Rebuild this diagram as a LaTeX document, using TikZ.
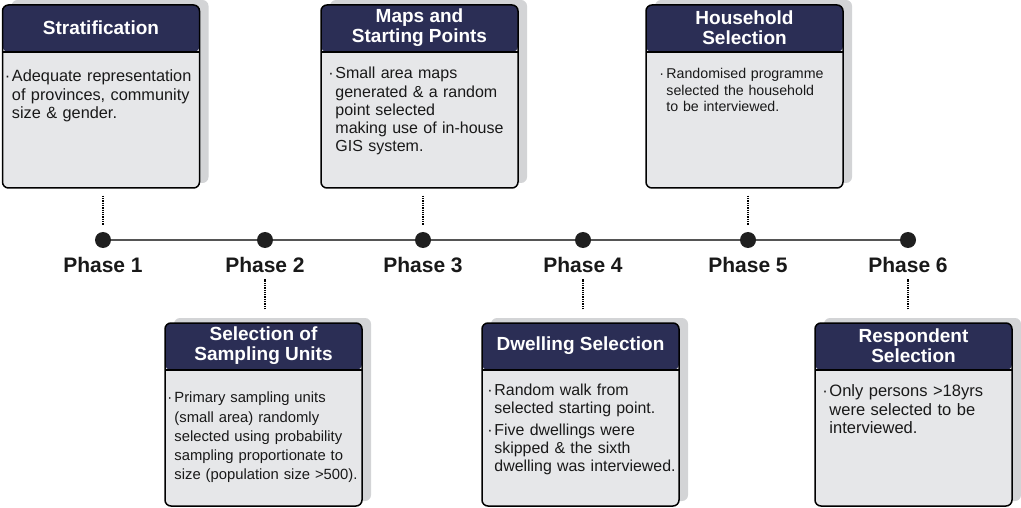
\documentclass[tikz,border=0pt]{standalone}
\usepackage{fontspec}
\setmainfont{Liberation Sans}
\usetikzlibrary{positioning,calc,shadows}

\definecolor{headblue}{HTML}{2B2E55}
\definecolor{cardgray}{HTML}{E6E7E9}
\definecolor{shadegray}{HTML}{D3D4D6}
\definecolor{linegray}{HTML}{555555}
\definecolor{dotblack}{HTML}{1F1F1F}

% one bulleted item, hanging indent
\newcommand{\itm}[1]{\par\hangindent=7pt\hangafter=1\noindent\makebox[7pt][l]{·}#1\par}

\tikzset{
  card/.style={draw=black, line width=1.5pt, rounded corners=6pt, fill=cardgray,
    minimum width=197pt, minimum height=183pt, inner sep=0pt,
    drop shadow={shadow xshift=9pt, shadow yshift=5pt, fill=shadegray, opacity=1},
    path picture={
      \fill[headblue] (path picture bounding box.north west) rectangle ([yshift=-47pt]path picture bounding box.north east);
      \draw[line width=1.5pt] ([yshift=-47pt]path picture bounding box.north west) -- ([yshift=-47pt]path picture bounding box.north east);
    }},
  head/.style={text=white, font=\fontsize{19}{20.5}\selectfont\bfseries, align=center, inner sep=0pt},
  body/.style={anchor=north west, inner sep=0pt, text width=192pt, align=left, text=black!90},
  dot/.style={circle, fill=dotblack, minimum size=16pt, inner sep=0pt},
  phase/.style={anchor=base, font=\fontsize{21}{21}\selectfont\bfseries, text=black!90},
  link/.style={densely dotted, line width=1.3pt}
}

\begin{document}
\begin{tikzpicture}[x=1pt, y=-1pt]
\useasboundingbox (0,0) rectangle (1021,508);

% timeline
\node[dot] (p1) at (103,240) {};
\node[dot] (p2) at (265,240) {};
\node[dot] (p3) at (423,240) {};
\node[dot] (p4) at (583,240) {};
\node[dot] (p5) at (748,240) {};
\node[dot] (p6) at (908,240) {};
\draw[line width=2pt, linegray] (p1) -- (p2) -- (p3) -- (p4) -- (p5) -- (p6);

\node[phase] (ph1) at (103,272) {Phase 1};
\node[phase] (ph2) at (265,272) {Phase 2};
\node[phase] (ph3) at (423,272) {Phase 3};
\node[phase] (ph4) at (583,272) {Phase 4};
\node[phase] (ph5) at (748,272) {Phase 5};
\node[phase] (ph6) at (908,272) {Phase 6};

% cards above
\node[card] (b1) at (101,96.5) {};
\node[card] (b2) at (419.5,96.5) {};
\node[card] (b3) at (744.5,96.5) {};
% cards below
\node[card] (b4) at (263.5,414.5) {};
\node[card] (b5) at (580.5,414.5) {};
\node[card] (b6) at (913.5,414.5) {};

\node[head] (h1) at ($(b1.north)+(0,23.5)$) {Stratification};
\node[head] (h2) at ($(b2.north)+(0,23.5)$) {Maps and\\Starting Points};
\node[head] (h3) at ($(b3.north)+(0,23.5)$) {Household\\Selection};
\node[head] (h4) at ($(b4.north)+(0,23.5)$) {Selection of\\Sampling Units};
\node[head] (h5) at ($(b5.north)+(0,23.5)$) {Dwelling Selection};
\node[head] (h6) at ($(b6.north)+(0,23.5)$) {Respondent\\Selection};

\node[body, font=\fontsize{16.3}{18.3}\selectfont] (t1) at ($(b1.north west)+(3,59)$)
  {\itm{Adequate representation\newline of provinces, community\newline size \& gender.}};
\node[body, font=\fontsize{16}{18.3}\selectfont] (t2) at ($(b2.north west)+(8,56)$)
  {\itm{Small area maps\newline generated \& a random\newline point selected\newline making use of in-house\newline GIS system.}};
\node[body, font=\fontsize{14.2}{16.5}\selectfont] (t3) at ($(b3.north west)+(14,58)$)
  {\itm{Randomised programme\newline selected the household\newline to be interviewed.}};
\node[body, font=\fontsize{14.8}{19.3}\selectfont] (t4) at ($(b4.north west)+(3,61)$)
  {\itm{Primary sampling units\newline (small area) randomly\newline selected using probability\newline sampling proportionate to\newline size (population size >500).}};
\node[body, font=\fontsize{15.9}{18}\selectfont] (t5) at ($(b5.north west)+(6,55)$)
  {\itm{Random walk from\newline selected starting point.}\vspace{4.5pt}
   \itm{Five dwellings were\newline skipped \& the sixth\newline dwelling was interviewed.}};
\node[body, font=\fontsize{16.5}{18.3}\selectfont] (t6) at ($(b6.north west)+(8,56)$)
  {\itm{Only persons >18yrs\newline were selected to be\newline interviewed.}};

% dotted ties
\draw[link] ($(b1.south -| p1)+(0,7)$) -- ($(p1.north)+(0,-7)$);
\draw[link] ($(b2.south -| p3)+(0,7)$) -- ($(p3.north)+(0,-7)$);
\draw[link] ($(b3.south -| p5)+(0,7)$) -- ($(p5.north)+(0,-7)$);
\draw[link] ($(b4.north -| p2)+(0,-13)$) -- ($(b4.north -| p2)+(0,-43)$);
\draw[link] ($(b5.north -| p4)+(0,-13)$) -- ($(b5.north -| p4)+(0,-43)$);
\draw[link] ($(b6.north -| p6)+(0,-13)$) -- ($(b6.north -| p6)+(0,-43)$);
\end{tikzpicture}
\end{document}
